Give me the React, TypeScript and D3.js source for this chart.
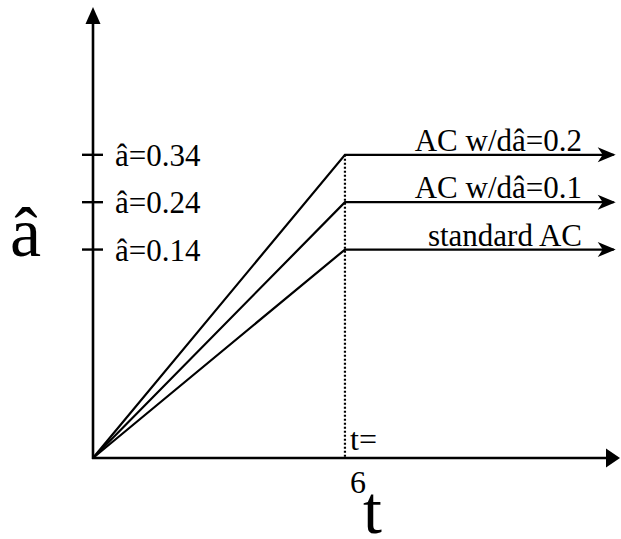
import React from "react";
import * as d3 from "d3";

const W = 621;
const H = 539;

// schematic data
const seriesNames = ["standard AC", "AC w/d\u00e2=0.1", "AC w/d\u00e2=0.2"];
const plateauValues = [0.14, 0.24, 0.34];
const tStart = 0;
const tKnee = 6;
const tEnd = 12.4;
const aOrigin = -0.3;
const tickValues = [0.14, 0.24, 0.34];
const tickLabels = ["\u00e2=0.14", "\u00e2=0.24", "\u00e2=0.34"];
const kneeLabelTop = "t=";
const kneeLabelBottom = "6";
const xDomain = [0, 12.55];
const yDomain = [aOrigin, 0.652];

const FONT = "'Liberation Serif', 'Times New Roman', serif";

export default function App() {
  const x = d3.scaleLinear().domain(xDomain).range([93, 620]);
  const y = d3.scaleLinear().domain(yDomain).range([458, 7]);

  const line = d3
    .line<{ t: number; a: number }>()
    .x((d) => x(d.t))
    .y((d) => y(d.a));

  const x0 = x(0);
  const y0 = y(aOrigin);
  const yTop = y(yDomain[1]);
  const xRight = x(xDomain[1]);
  const xk = x(tKnee);

  return (
    <svg
      width={W}
      height={H}
      style={{ position: "absolute", left: 0, top: 0, background: "#fff" }}
      fontFamily={FONT}
    >
      <rect x={0} y={0} width={W} height={H} fill="#fff" />
      {/* y axis */}
      <line x1={x0} y1={y0 + 1} x2={x0} y2={yTop + 12} stroke="#000" strokeWidth={2.6} />
      <path
        d={`M${x0},${yTop} L${x0 - 7.5},${yTop + 17} L${x0 + 7.5},${yTop + 17} Z`}
        fill="#000"
      />
      {/* x axis */}
      <line x1={x0 - 1} y1={y0} x2={xRight - 10} y2={y0} stroke="#000" strokeWidth={2.6} />
      <path
        d={`M${xRight},${y0} L${xRight - 14},${y0 - 9.5} L${xRight - 14},${y0 + 9.5} Z`}
        fill="#000"
      />
      {/* ticks */}
      {tickValues.map((v, i) => (
        <g key={v}>
          <line x1={x0 - 11} x2={x0 + 10} y1={y(v)} y2={y(v)} stroke="#000" strokeWidth={2.4} />
          <text x={115} y={y(v) + 11} fontSize={31}>
            {tickLabels[i]}
          </text>
        </g>
      ))}
      {/* dotted knee line */}
      <line
        x1={xk}
        x2={xk}
        y1={y(d3.max(plateauValues)!)}
        y2={y0}
        stroke="#000"
        strokeWidth={2.2}
        strokeDasharray="2,2"
      />
      {/* series */}
      {plateauValues.map((p, i) => {
        const pts = [
          { t: tStart, a: aOrigin },
          { t: tKnee, a: p },
          { t: tEnd, a: p },
        ];
        const tipX = x(tEnd) + 2;
        const ty = y(p);
        return (
          <g key={seriesNames[i]}>
            <path d={line(pts)!} fill="none" stroke="#000" strokeWidth={2.2} />
            <path
              d={`M${tipX},${ty} L${tipX - 18},${ty - 7.5} L${tipX - 13},${ty} L${tipX - 18},${ty + 7.5} Z`}
              fill="#000"
            />
            <text x={582} y={ty - 4} fontSize={31} textAnchor="end">
              {seriesNames[i]}
            </text>
          </g>
        );
      })}
      {/* knee labels */}
      <text x={350} y={450} fontSize={32}>
        {kneeLabelTop}
      </text>
      <text x={350} y={493} fontSize={32}>
        {kneeLabelBottom}
      </text>
      {/* axis titles */}
      <text x={10} y={256} fontSize={70}>
        {"\u00e2"}
      </text>
      <text x={363} y={533} fontSize={68}>
        t
      </text>
    </svg>
  );
}
